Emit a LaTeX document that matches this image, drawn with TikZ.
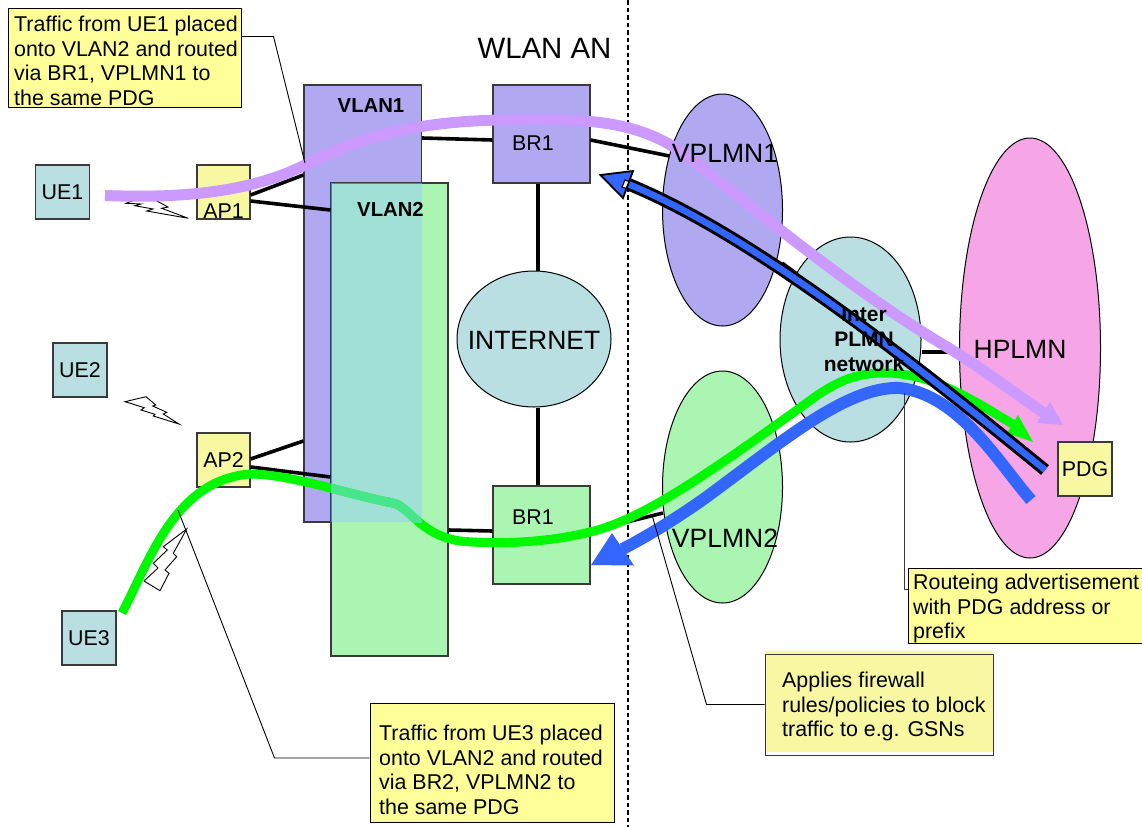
\documentclass[tikz,border=0pt]{standalone}
\usepackage{fontspec}
\setmainfont{Liberation Sans}
\usetikzlibrary{shapes.geometric,calc}
\definecolor{vlanone}{HTML}{B0A9F2}
\definecolor{vlantwo}{HTML}{A9F5B1}
\definecolor{overlapc}{HTML}{A1E0D6}
\definecolor{tealc}{HTML}{B9DFE3}
\definecolor{apyel}{HTML}{F8F8A2}
\definecolor{noteyel}{HTML}{FFFF99}
\definecolor{pinkc}{HTML}{F6A6E6}
\definecolor{purp}{HTML}{CC99FF}
\definecolor{lime}{HTML}{00F800}
\definecolor{limeb}{HTML}{48E68A}
\definecolor{blu}{HTML}{3366FF}
\definecolor{edgec}{HTML}{3A3A3A}
\newcommand{\smallfs}{\fontsize{21.4}{24.5}\selectfont}
\tikzset{
 boxn/.style={rectangle,draw=edgec,line width=1.2pt,inner sep=0pt,font=\smallfs},
 ue/.style={boxn,fill=tealc,minimum width=54pt,minimum height=54pt},
 ap/.style={boxn,fill=apyel,minimum width=53pt,minimum height=54pt},
 ell/.style={ellipse,draw=black,line width=1pt,inner sep=0pt},
 notebox/.style={rectangle,draw=black,line width=1pt,fill=noteyel,inner sep=0pt},
 notetext/.style={anchor=north west,inner sep=0pt,align=left,font=\smallfs},
 big/.style={anchor=base,inner sep=0pt,font=\fontsize{26.5}{30}\selectfont},
 small/.style={anchor=base,inner sep=0pt,font=\smallfs},
 boldlab/.style={anchor=base,inner sep=0pt,font=\fontsize{20.3}{24}\selectfont\bfseries},
 link/.style={draw=black,line width=3.6pt},
 leader/.style={draw=black,line width=0.9pt},
 bolt/.style={draw=black,line width=0.9pt,fill=white,line join=miter},
}
\begin{document}
\begin{tikzpicture}[x=1pt,y=-1pt]
\useasboundingbox (0,0) rectangle (1142,827);

% VLAN rectangles
\node[boxn,fill=vlanone,minimum width=117.5pt,minimum height=437pt] (vlan1) at (362.75,303.5) {};
\node[boxn,draw=edgec,fill=vlantwo,minimum width=117pt,minimum height=473pt] (vlan2) at (389.5,419.5) {};
\fill[overlapc] (331,183) rectangle (422,522);
\draw[line width=1pt,draw=blue!40!cyan!45!gray] (331,522) -- (331,183) -- (422,183);

% boxes
\node[boxn,fill=vlanone,minimum width=97pt,minimum height=98pt] (brup) at (541.5,134) {};
\node[boxn,fill=vlantwo,minimum width=97pt,minimum height=98pt] (brlo) at (541.5,535) {};
\node[ue] (ue1) at (62.5,192) {UE1};
\node[ue] (ue2) at (80,370) {UE2};
\node[ue] (ue3) at (89,638) {UE3};
\node[ap,anchor=center] (ap1) at (223.5,192) {};
\node[ap] (ap2) at (223.5,460) {};

% ellipses
\node[ell,fill=tealc,minimum width=154pt,minimum height=136pt] (inet) at (534,339) {};
\node[ell,fill=vlanone,minimum width=120pt,minimum height=232pt] (vp1) at (722.5,210) {};
\node[ell,fill=vlantwo,minimum width=120pt,minimum height=232pt] (vp2) at (722.5,487) {};
\node[ell,fill=tealc,minimum width=141pt,minimum height=205pt] (ipn) at (850.5,339.5) {};
\node[ell,fill=pinkc,minimum width=141pt,minimum height=420pt] (hp) at (1030,348) {};
\node[boxn,fill=apyel,minimum width=54pt,minimum height=54pt] (pdg) at (1085,469) {PDG};

% thick links
\draw[link] ($(vlan1.east)+(0,-165.5)$) -- ($(brup.west)+(0,6)$);
\draw[link] ($(brup.east)+(0,6)$) -- ($(vp1.center)+(-53,-54)$);
\draw[link] ($(brup.south)+(-3.5,0)$) -- ($(inet.north)+(4,0)$);
\draw[link] ($(inet.south)+(4,0)$) -- ($(brlo.north)+(-3.5,0)$);
\draw[link] ($(vlan2.east)+(0,110.5)$) -- ($(brlo.west)+(0,-4)$);
\draw[link] ($(brlo.east)+(0,-4)$) -- ($(vp2.center)+(-59.5,26)$);
\draw[link] ($(vp1.center)+(59.5,53)$) -- ($(ipn.center)+(-53,-65)$);
\draw[link] ($(ipn.east)+(0,12.5)$) -- ($(hp.west)+(0,4)$);
\draw[link] ($(ap1.east)+(0,3)$) -- ($(vlan1.west)+(0,-128.5)$);
\draw[link] ($(ap1.east)+(0,9)$) -- ($(vlan2.west)+(0,-209.5)$);
\draw[link] ($(ap2.east)+(0,-1)$) -- ($(vlan1.west)+(0,137.5)$);
\draw[link] ($(ap2.east)+(0,7)$) -- ($(vlan2.west)+(0,57.5)$);

% wireless bolts
\draw[bolt] (126,203.3) -- (135,200) -- (155,200) -- (168,207) -- (161.7,208.3) -- (188.3,218.3) -- (146.7,211) -- (153,209) -- (135,205.7) -- (141,204) -- cycle;
\draw[bolt] (125,401.7) -- (146,396.7) -- (155.7,405) -- (152.7,406) -- (166.7,412.3) -- (163.3,414) -- (179,424) -- (153.3,416) -- (155,414.3) -- (141,410) -- (144.3,407.7) -- cycle;
\draw[bolt] (186.7,529) -- (173.3,553.3) -- (176.7,556.7) -- (165,570) -- (169,573.3) -- (160,590.7) -- (144,581) -- (158,568) -- (153.3,563.3) -- (167.3,550) -- (163.3,546.7) -- cycle;

% dashed divider
\coordinate (divtop) at (628,0);
\coordinate (divbot) at (628,827);
\draw[line width=1.5pt,dash pattern=on 4.5pt off 3pt] (divtop) -- (divbot);

% free ends of the flows
\coordinate (greenA) at (122,613);
\coordinate (greenB) at (1012.5,424);
\coordinate (lowA) at (1031,500);
\coordinate (lowB) at (622.5,549);
\coordinate (purA) at (105,195.5);
\coordinate (purB) at (1044,413);
\coordinate (outA) at (1045,470);
\coordinate (outB) at (628,184);

% lower blue flow
\draw[draw=blu,line width=12pt] (lowA) .. controls (1000,465) and (960,395) .. (900,388) .. controls (850,386) and (790,435) .. (720,487) .. controls (690,510) and (650,535) .. (lowB);
\fill[blu] (591,565) -- (612,533) -- (634,565.5) -- cycle;

% green flow
\newcommand{\greenpath}{(greenA) .. controls (150,560) and (175,480) .. (250,474) .. controls (290,474) and (350,495) .. (393,503) .. controls (410,507) and (420,535) .. (460,541) .. controls (500,545) and (550,542) .. (590,532) .. controls (640,520) and (700,480) .. (808,402) .. controls (840,378) and (860,373) .. (885,373) .. controls (930,373) and (970,398) .. (greenB)}
\draw[draw=lime,line width=9pt] \greenpath;
\begin{scope}
 \clip (331,183) rectangle (422,522);
 \draw[draw=limeb,line width=9pt] \greenpath;
\end{scope}
\fill[lime] (1033,442) -- (1018,415) -- (1007,433) -- cycle;

% outlined blue flow
\newcommand{\outpath}{(outA) .. controls (880,335) and (740,230) .. (outB)}
\draw[draw=black,line width=12.5pt] \outpath;
\draw[draw=blu,line width=6.5pt] \outpath;
\draw[draw=black,fill=blu,line width=1.8pt,line join=miter] (600.5,175) -- (633,171) -- (623,198) -- cycle;
\draw[draw=black,fill=white,line width=1.2pt] (622,187) -- (625,180) -- (629,181.5) -- (626,188.5) -- cycle;

% purple flow
\draw[draw=purp,line width=11pt] (purA) .. controls (170,198) and (245,195) .. (305,165) .. controls (350,143) and (400,122) .. (500,120) .. controls (590,118) and (640,120) .. (690,158) .. controls (780,230) and (860,295) .. (947,347) .. controls (985,370) and (1020,397) .. (purB);
\fill[purp] (1063,425) -- (1050,402) -- (1037,423) -- cycle;

% labels
\node[small] (aponelab) at (223.5,218) {AP1};
\node[small] (aptwolab) at (223.5,467) {AP2};
\node[small] (bruplab) at (533,150) {BR1};
\node[small] (brlolab) at (533,524) {BR1};
\node[boldlab] (vonelab) at (371,112) {VLAN1};
\node[boldlab] (vtwolab) at (390.5,216) {VLAN2};
\node[big] (inetlab) at (534,349) {INTERNET};
\node[big] (vponelab) at (725,162) {VPLMN1};
\node[big] (vptwolab) at (725,547) {VPLMN2};
\node[big] (hplab) at (1020,358) {HPLMN};
\node[anchor=base,inner sep=0pt,font=\fontsize{29.4}{32}\selectfont] (wlan) at (544.5,58) {WLAN AN};
\node[anchor=north,inner sep=0pt,align=center,font=\fontsize{21}{25}\selectfont\bfseries] (ipnlab) at (864,307) {Inter\\PLMN\\network};

% notes
\node[notebox,minimum width=233pt,minimum height=99pt] (note1) at (124.5,57.5) {};
\node[notetext] (note1t) at (14,16) {Traffic from UE1 placed\\onto VLAN2 and routed\\via BR1, VPLMN1 to\\the same PDG};
\node[notebox,minimum width=244pt,minimum height=119pt] (note2) at (492,762.5) {};
\node[notetext] (note2t) at (379,725) {Traffic from UE3 placed\\onto VLAN2 and routed\\via BR2, VPLMN2 to\\the same PDG};
\node[rectangle,fill=apyel,inner sep=0pt,minimum width=228pt,minimum height=101pt] (note3f) at (879,701.5) {};
\node[rectangle,draw=edgec,line width=1pt,inner sep=0pt,minimum width=228pt,minimum height=101pt] (note3) at (879,704.5) {};
\node[notetext] (note3t) at (782,672) {Applies firewall\\rules/policies to block\\traffic to e.g. GSNs};
\node[notebox,minimum width=240pt,minimum height=75pt] (note4) at (1028,605.5) {};
\node[notetext] (note4t) at (913,574) {Routeing advertisement\\with PDG address or\\prefix};

% leaders
\coordinate (lead1) at (305,163);
\coordinate (lead2) at (178,510);
\coordinate (lead3) at (652,515);
\coordinate (lead4) at (904,393);
\draw[leader] ($(note1.east)+(0,-21)$) -- ++(32,0) -- (lead1);
\draw[leader] ($(note2.west)+(0,-4.5)$) -- ++(-95,0) -- (lead2);
\draw[leader] (note3.west) -- ++(-58,0) -- (lead3);
\draw[leader,draw=edgec] (lead4) -- ++(0,196) -- ($(note4.west)+(0,-16.5)$);
\end{tikzpicture}
\end{document}
